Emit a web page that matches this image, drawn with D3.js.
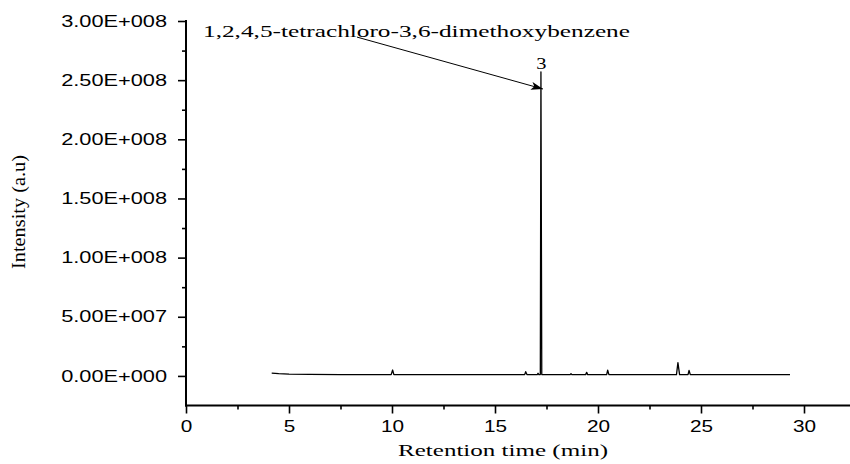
<!DOCTYPE html>
<html>
<head>
<meta charset="utf-8">
<script src="https://cdn.jsdelivr.net/npm/d3@7"></script>
<style>
  body { margin: 0; background: #fff; }
  svg { display: block; }
</style>
</head>
<body>
<div id="chart"></div>
<script>
// chromatogram trace (retention time in min, intensity in a.u)
const retTime = [4.16, 4.5, 5.0, 6.0, 7.5, 9.96, 10.03, 10.09, 16.44, 16.49, 16.55,
  17.05, 17.09, 17.13, 17.20, 17.23, 17.27, 18.65, 18.69, 18.73, 19.40, 19.45, 19.50,
  20.42, 20.47, 20.53, 23.81, 23.88, 23.96, 24.37, 24.42, 24.48, 29.32];
const intensity = [2.4e6, 1.9e6, 1.5e6, 1.3e6, 1.1e6, 1.1e6, 5.0e6, 1.1e6, 1.1e6, 3.6e6, 1.1e6,
  1.1e6, 2.3e6, 1.1e6, 1.1e6, 2.57e8, 1.2e6, 1.1e6, 1.9e6, 1.1e6, 1.1e6, 3.0e6, 1.1e6,
  1.1e6, 4.8e6, 1.1e6, 1.1e6, 1.12e7, 1.1e6, 1.1e6, 4.6e6, 1.1e6, 1.1e6];

const xTicks = [0, 5, 10, 15, 20, 25, 30];
const xMinorTicks = [2.5, 7.5, 12.5, 17.5, 22.5, 27.5, 32.5];
const yTicks = [0, 5e7, 1e8, 1.5e8, 2e8, 2.5e8, 3e8];
const yMinorTicks = [2.5e7, 7.5e7, 1.25e8, 1.75e8, 2.25e8, 2.75e8];

const compoundName = "1,2,4,5-tetrachloro-3,6-dimethoxybenzene";
const peakLabel = { t: 17.23, v: 2.57e8, text: "3" };
const arrowFrom = [8.3, 2.864e8];
const arrowTo = [17.33, 2.425e8];

const width = 850;
const height = 464;

const x = d3.scaleLinear().domain([0, 32.5]).range([186, 186 + 32.5 * 20.6]);
const y = d3.scaleLinear().domain([-2.5e7, 3e8]).range([405.5, 21]);

const svg = d3.select("#chart").append("svg")
  .attr("width", width)
  .attr("height", height);

// sci format like 3.00E+008
function sci(d) {
  if (d === 0) return "0.00E+000";
  const e = Math.floor(Math.log10(d));
  const m = d / Math.pow(10, e);
  return m.toFixed(2) + "E+" + String(e).padStart(3, "0");
}

// the original picture is stretched sideways, so widen glyphs a bit
function stretch(sel, k) {
  sel.each(function () {
    const w = this.getComputedTextLength();
    d3.select(this).attr("textLength", w * k).attr("lengthAdjust", "spacingAndGlyphs");
  });
}

// x axis
const gx = svg.append("g").attr("transform", `translate(0,${y(-2.5e7)})`);
gx.call(d3.axisBottom(x).tickValues(xTicks).tickSize(8).tickPadding(6).tickFormat(d3.format("d")));
gx.append("g").call(d3.axisBottom(x).tickValues(xMinorTicks).tickSize(4).tickFormat(""))
  .select(".domain").remove();
gx.selectAll(".domain").attr("stroke-width", 2).attr("d", `M${x(0) - 1},0H${width + 10}`);
gx.selectAll(".tick line").attr("stroke-width", 1.6);
gx.selectAll(".tick text")
  .attr("font-family", "'Liberation Sans', Arial, sans-serif")
  .attr("font-size", 17)
  .attr("fill", "#000")
  .call(stretch, 1.22);

// y axis
const gy = svg.append("g").attr("transform", `translate(${x(0)},0)`);
gy.call(d3.axisLeft(y).tickValues(yTicks).tickSize(8).tickPadding(11).tickFormat(sci));
gy.append("g").call(d3.axisLeft(y).tickValues(yMinorTicks).tickSize(4).tickFormat(""))
  .select(".domain").remove();
gy.selectAll(".domain").attr("stroke-width", 2).attr("d", `M0,${y(3e8) - 1}V${y(-2.5e7) + 1}`);
gy.selectAll(".tick line").attr("stroke-width", 1.6);
gy.selectAll(".tick text")
  .attr("font-family", "'Liberation Sans', Arial, sans-serif")
  .attr("font-size", 16)
  .attr("fill", "#000")
  .call(stretch, 1.36);

// axis titles
svg.append("text")
  .attr("x", 398)
  .attr("y", 456)
  .attr("font-family", "'Liberation Serif', 'Times New Roman', serif")
  .attr("font-size", 16.5)
  .attr("textLength", 210)
  .attr("lengthAdjust", "spacingAndGlyphs")
  .text("Retention time (min)");

svg.append("text")
  .attr("transform", "translate(25,212) rotate(-90)")
  .attr("text-anchor", "middle")
  .attr("font-family", "'Liberation Serif', 'Times New Roman', serif")
  .attr("font-size", 19)
  .attr("textLength", 114)
  .attr("lengthAdjust", "spacingAndGlyphs")
  .text("Intensity (a.u)");

// trace
const points = retTime.map((t, i) => [t, intensity[i]]);
const line = d3.line().x(d => x(d[0])).y(d => y(d[1]));
svg.append("path")
  .datum(points)
  .attr("fill", "none")
  .attr("stroke", "#000")
  .attr("stroke-width", 1.3)
  .attr("stroke-linejoin", "round")
  .attr("d", line);

// peak label
svg.append("text")
  .attr("x", x(peakLabel.t) + 0.5)
  .attr("y", y(peakLabel.v) - 3)
  .attr("text-anchor", "middle")
  .attr("font-family", "'Liberation Serif', 'Times New Roman', serif")
  .attr("font-size", 17)
  .text(peakLabel.text)
  .call(stretch, 1.2);

// compound annotation + arrow
svg.append("text")
  .attr("x", 203)
  .attr("y", 36.5)
  .attr("font-family", "'Liberation Serif', 'Times New Roman', serif")
  .attr("font-size", 17.5)
  .attr("textLength", 427)
  .attr("lengthAdjust", "spacingAndGlyphs")
  .text(compoundName);

svg.append("defs").append("marker")
  .attr("id", "arrowhead")
  .attr("viewBox", "0 0 12 8")
  .attr("refX", 12)
  .attr("refY", 4)
  .attr("markerWidth", 12)
  .attr("markerHeight", 8)
  .attr("markerUnits", "userSpaceOnUse")
  .attr("orient", "auto")
  .append("path")
  .attr("d", "M0,0L12,4L0,8L3,4Z")
  .attr("fill", "#000");

svg.append("line")
  .attr("x1", x(arrowFrom[0]))
  .attr("y1", y(arrowFrom[1]))
  .attr("x2", x(arrowTo[0]))
  .attr("y2", y(arrowTo[1]))
  .attr("stroke", "#000")
  .attr("stroke-width", 1)
  .attr("marker-end", "url(#arrowhead)");
</script>
</body>
</html>
